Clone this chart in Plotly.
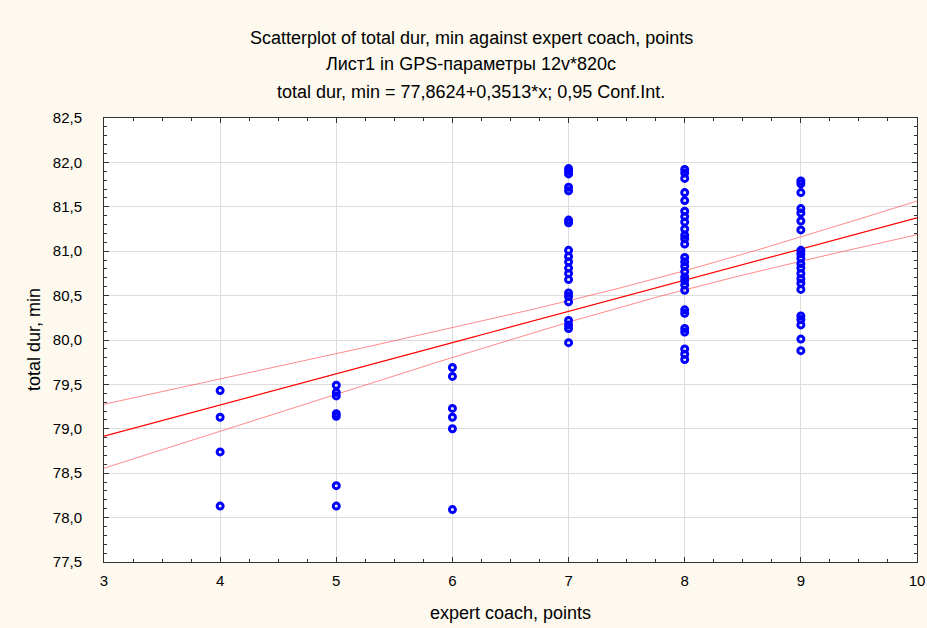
import numpy as np
import plotly.graph_objects as go

# ---- data ----
coach_levels = [4, 5, 6, 7, 8, 9]
dur_at_4 = [79.43, 79.13, 78.74, 78.13]
dur_at_5 = [79.49, 79.41, 79.37, 79.17, 79.14, 78.36, 78.13]
dur_at_6 = [79.69, 79.59, 79.23, 79.13, 79.00, 78.09]
dur_at_7 = [81.93, 81.90, 81.87, 81.72, 81.68, 81.35, 81.32, 81.01, 80.94, 80.88,
            80.81, 80.75, 80.68, 80.53, 80.49, 80.43, 80.22, 80.17, 80.13, 79.97]
dur_at_8 = [81.92, 81.88, 81.82, 81.66, 81.57, 81.45, 81.39, 81.33, 81.25, 81.18,
            81.14, 81.08, 80.93, 80.88, 80.83, 80.77, 80.71, 80.67, 80.62, 80.56,
            80.34, 80.30, 80.13, 80.09, 79.90, 79.84, 79.78]
dur_at_9 = [81.79, 81.76, 81.66, 81.48, 81.43, 81.34, 81.24, 81.01, 80.97, 80.92,
            80.86, 80.81, 80.75, 80.69, 80.64, 80.57, 80.27, 80.23, 80.17, 80.01, 79.88]

fit_intercept = 77.8624
fit_slope = 0.3513
ci_xbar = 7.8
ci_a = 0.0112
ci_b = 0.00514

x_range = [3, 10]
y_range = [77.5, 82.5]

title_lines = [
    "Scatterplot of total dur, min against expert coach, points",
    "Лист1 in GPS-параметры 12v*820c",
    "total dur, min = 77,8624+0,3513*x; 0,95 Conf.Int.",
]
x_title = "expert coach, points"
y_title = "total dur, min"

# ---- build ----
groups = [dur_at_4, dur_at_5, dur_at_6, dur_at_7, dur_at_8, dur_at_9]
xs, ys = [], []
for lvl, vals in zip(coach_levels, groups):
    xs += [lvl] * len(vals)
    ys += vals

xf = np.linspace(x_range[0], x_range[1], 200)
yf = fit_intercept + fit_slope * xf
half = np.sqrt(ci_a + ci_b * (xf - ci_xbar) ** 2)

FONT = "Liberation Sans, Arial, sans-serif"
fig = go.Figure()
fig.add_trace(go.Scatter(x=xf, y=yf + half, mode="lines",
                         line=dict(color="rgba(255,60,60,0.6)", width=1), hoverinfo="skip"))
fig.add_trace(go.Scatter(x=xf, y=yf - half, mode="lines",
                         line=dict(color="rgba(255,60,60,0.6)", width=1), hoverinfo="skip"))
fig.add_trace(go.Scatter(x=xf, y=yf, mode="lines",
                         line=dict(color="#FF0000", width=1.2), hoverinfo="skip"))
fig.add_trace(go.Scatter(x=xs, y=ys, mode="markers",
                         marker=dict(symbol="circle-open", size=6, color="#0000FF",
                                     line=dict(width=3, color="#0000FF"))))

W, H = 927, 628
L, R, T, B = 104, 10, 118, 66
plot_h = H - T - B
plot_w = W - L - R
title_y_px = [38, 64, 92]
anns = []
for txt, py in zip(title_lines, title_y_px):
    anns.append(dict(text=txt, xref="paper", yref="paper",
                     x=(471 - L) / plot_w, y=1 + (T - py) / plot_h,
                     xanchor="center", yanchor="middle", showarrow=False,
                     font=dict(family=FONT, size=18, color="#000000")))
# axis titles as annotations for exact placement
anns.append(dict(text=x_title, xref="paper", yref="paper",
                 x=(510 - L) / plot_w, y=-(613 - (H - B)) / plot_h,
                 xanchor="center", yanchor="middle", showarrow=False,
                 font=dict(family=FONT, size=18, color="#000000")))
anns.append(dict(text=y_title, xref="paper", yref="paper", textangle=-90,
                 x=-(L - 34) / plot_w, y=(H - B - 340) / plot_h,
                 xanchor="center", yanchor="middle", showarrow=False,
                 font=dict(family=FONT, size=18, color="#000000")))

axis_common = dict(showline=True, linecolor="#333333", linewidth=1, mirror="allticks",
                   ticks="inside", tickcolor="#333333", ticklen=5, tickwidth=1,
                   showgrid=True, gridcolor="#DCDCDC", gridwidth=1, zeroline=False,
                   automargin=False,
                   tickfont=dict(family=FONT, size=15, color="#000000"))

fig.update_layout(
    width=W, height=H,
    margin=dict(l=L, r=R, t=T, b=B),
    paper_bgcolor="#FDF9EE", plot_bgcolor="#FFFFFF",
    showlegend=False, separators=", ",
    annotations=anns,
    xaxis=dict(range=x_range, dtick=1, tick0=3, ticklabelstandoff=5,
               minor=dict(dtick=0.25, ticks="inside", ticklen=3, tickcolor="#333333", showgrid=False),
               **axis_common),
    yaxis=dict(range=y_range, dtick=0.5, tick0=77.5, tickformat=".1f", ticklabelstandoff=18,
               minor=dict(dtick=0.1, ticks="inside", ticklen=3, tickcolor="#333333", showgrid=False),
               **axis_common),
)
fig.write_html("out.html")
